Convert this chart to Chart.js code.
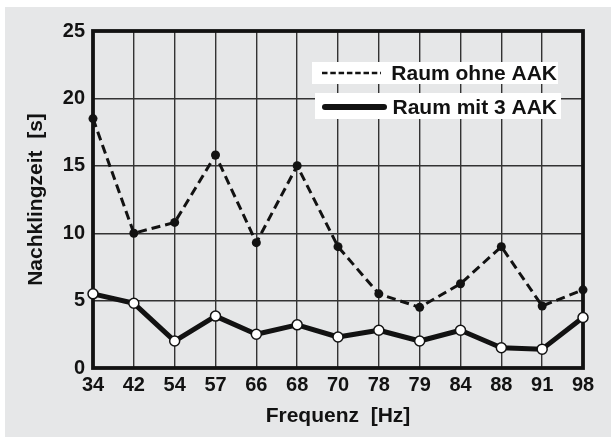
<!DOCTYPE html>
<html>
<head>
<meta charset="utf-8">
<script src="https://cdn.jsdelivr.net/npm/chart.js@4"></script>
<style>
  html, body { margin: 0; padding: 0; background: #fff; }
  #wrap { width: 611px; height: 437px; }
</style>
</head>
<body>
<div id="wrap"><canvas id="myChart" width="611" height="437"></canvas></div>
<script>
var frequenzen = ['34', '42', '54', '57', '66', '68', '70', '78', '79', '84', '88', '91', '98'];
var ohneAAK = [18.5, 10, 10.8, 15.8, 9.3, 15, 9, 5.5, 4.5, 6.25, 9, 4.6, 5.8];
var mit3AAK = [5.5, 4.8, 2, 3.85, 2.5, 3.2, 2.3, 2.8, 2, 2.8, 1.5, 1.4, 3.75];
var yTicks = [0, 5, 10, 15, 20, 25];

var familie = '"Liberation Sans", Arial, Helvetica, sans-serif';
var schrift = { family: familie, size: 20, weight: 'bold' };
var titelSchrift = { family: familie, size: 21, weight: 'bold' };
var schwarz = '#121212';
var gitter = '#333';

// Hintergrund grau, oben/links schmaler weißer Rand
const hintergrund = {
    id: 'hintergrund',
    beforeDraw(chart) {
        const c = chart.ctx;
        c.save();
        c.fillStyle = '#fff';
        c.fillRect(0, 0, chart.width, chart.height);
        c.fillStyle = '#e6e7e8';
        c.fillRect(5, 7, chart.width - 5, chart.height - 7);
        c.restore();
    }
};

// dicker Rahmen um die Zeichenfläche
const rahmen = {
    id: 'rahmen',
    beforeDatasetsDraw(chart) {
        const a = chart.chartArea;
        const c = chart.ctx;
        c.save();
        c.strokeStyle = schwarz;
        c.lineWidth = 3.8;
        c.strokeRect(a.left, a.top, a.right - a.left, a.bottom - a.top);
        c.restore();
    }
};

// Legende mit weißen Kästen
const legende = {
    id: 'legende',
    afterDraw(chart) {
        const c = chart.ctx;
        const ds = chart.data.datasets;
        const zeilen = [
            { box: [312, 62, 246, 22], y: 73, x0: 322, x1: 381, dash: [5.5, 2.8], lw: 2.4, base: 80 },
            { box: [315, 93, 246, 26], y: 107, x0: 325, x1: 384, dash: [], lw: 6, base: 114 }
        ];
        c.save();
        zeilen.forEach(function (z, i) {
            c.fillStyle = '#fff';
            c.fillRect(z.box[0], z.box[1], z.box[2], z.box[3]);
            c.strokeStyle = schwarz;
            c.lineWidth = z.lw;
            c.lineCap = i === 1 ? 'round' : 'butt';
            c.setLineDash(z.dash);
            c.beginPath();
            c.moveTo(z.x0, z.y);
            c.lineTo(z.x1, z.y);
            c.stroke();
            c.setLineDash([]);
            c.fillStyle = schwarz;
            c.font = 'bold 21px ' + familie;
            c.textAlign = 'right';
            c.textBaseline = 'alphabetic';
            c.fillText(ds[i].label, 557, z.base);
        });
        c.restore();
    }
};

const data = {
    labels: frequenzen,
    datasets: [{
        label: 'Raum ohne AAK',
        data: ohneAAK,
        borderColor: schwarz,
        borderWidth: 3,
        borderDash: [9, 5],
        pointRadius: 4.5,
        pointBackgroundColor: schwarz,
        pointBorderColor: schwarz,
        pointBorderWidth: 0,
        tension: 0,
        clip: false
    }, {
        label: 'Raum mit 3 AAK',
        data: mit3AAK,
        borderColor: schwarz,
        borderWidth: 5,
        borderJoinStyle: 'round',
        pointRadius: 5,
        pointBackgroundColor: '#fff',
        pointBorderColor: schwarz,
        pointBorderWidth: 1.5,
        tension: 0,
        clip: false
    }]
};

const opcoes = {
    responsive: false,
    animation: false,
    layout: { padding: { left: 0, top: 31, right: 28, bottom: 0 } },
    plugins: {
        legend: { display: false },
        tooltip: { enabled: false }
    },
    scales: {
        x: {
            type: 'category',
            offset: false,
            grid: { color: gitter, lineWidth: 1.4, drawTicks: false },
            border: { display: false },
            ticks: { font: schrift, color: schwarz, padding: 5, maxRotation: 0, autoSkip: false },
            title: { display: true, text: 'Frequenz  [Hz]', font: titelSchrift, color: schwarz, padding: { top: 0, bottom: 8 } },
            afterFit(s) { s.height = 69; }
        },
        y: {
            min: 0,
            max: 25,
            grid: { color: gitter, lineWidth: 1.4, drawTicks: false },
            border: { display: false },
            ticks: { font: schrift, color: schwarz, padding: 8, stepSize: 5 },
            afterBuildTicks(s) { s.ticks = yTicks.map(v => ({ value: v })); },
            title: { display: true, text: 'Nachklingzeit  [s]', font: titelSchrift, color: schwarz, padding: { top: 24, bottom: 0 } },
            afterFit(s) { s.width = 93; }
        }
    }
};

var ctx = document.getElementById('myChart').getContext('2d');
var myChart = new Chart(ctx, {
    type: 'line',
    data: data,
    options: opcoes,
    plugins: [hintergrund, rahmen, legende]
});
</script>
</body>
</html>
